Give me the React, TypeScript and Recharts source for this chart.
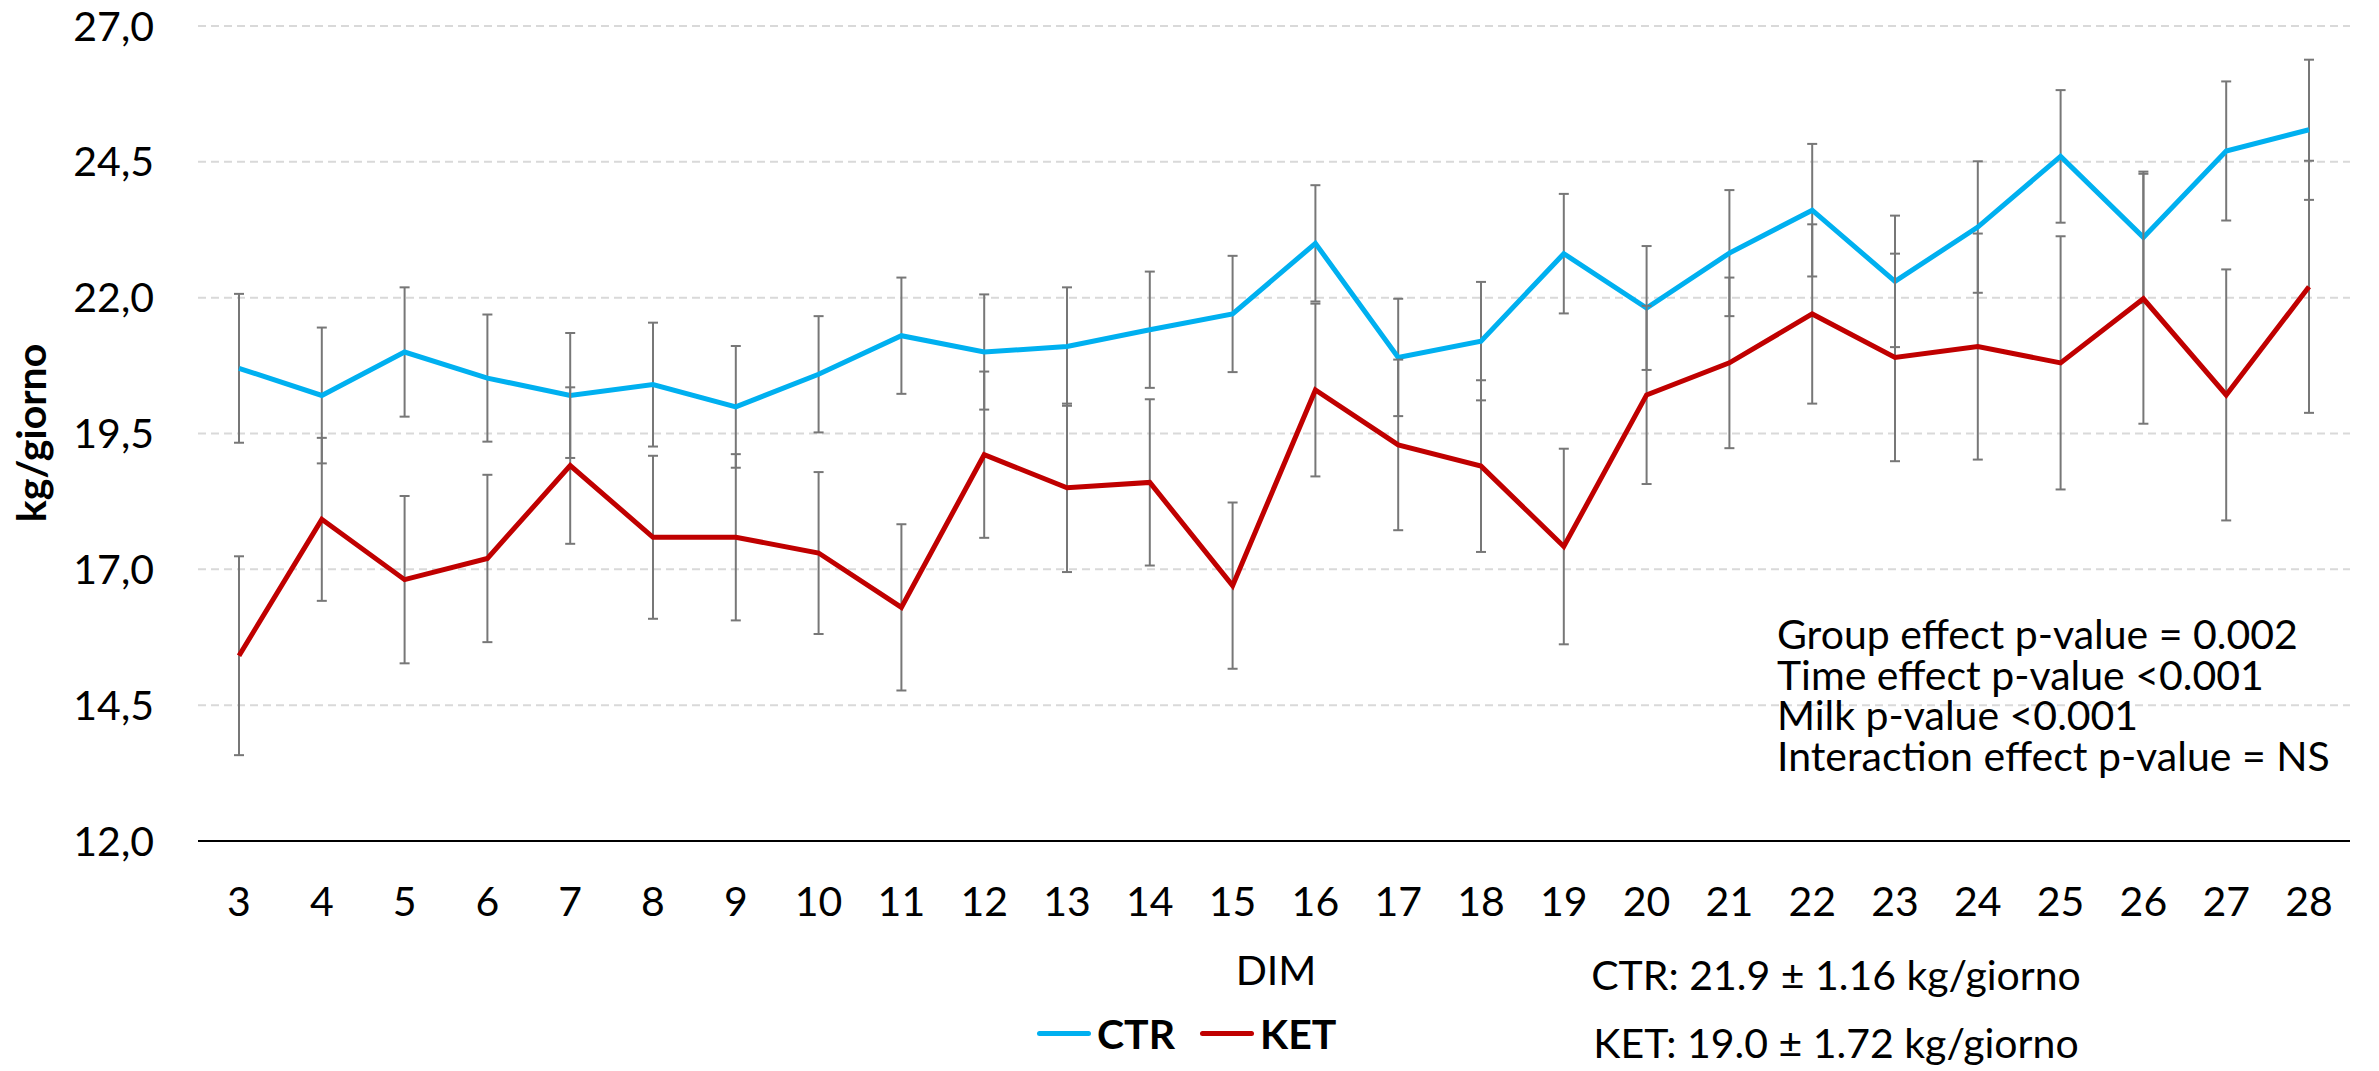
import React from "react";
import {
  LineChart,
  Line,
  XAxis,
  YAxis,
  CartesianGrid,
  ErrorBar,
  Legend,
  Label,
} from "recharts";

// DIM (days in milk)
const dim = [3, 4, 5, 6, 7, 8, 9, 10, 11, 12, 13, 14, 15, 16, 17, 18, 19, 20, 21, 22, 23, 24, 25, 26, 27, 28];

// kg/giorno, group means
const ctr = [
  20.7, 20.2, 21.0, 20.52, 20.2, 20.4, 19.99, 20.59, 21.3, 21.0, 21.1, 21.41, 21.7,
  23.0, 20.9, 21.2, 22.81, 21.81, 22.82, 23.61, 22.3, 23.3, 24.6, 23.11, 24.7, 25.09,
];
const ket = [
  15.41, 17.92, 16.81, 17.2, 18.91, 17.59, 17.59, 17.3, 16.3, 19.11, 18.5, 18.6, 16.7,
  20.3, 19.29, 18.9, 17.42, 20.21, 20.8, 21.7, 20.9, 21.1, 20.8, 21.98, 20.21, 22.2,
];

// error bar half-lengths
const ctrErr = [
  1.37, 1.25, 1.19, 1.17, 1.15, 1.14, 1.12, 1.07, 1.07, 1.06, 1.09, 1.07, 1.07,
  1.07, 1.08, 1.09, 1.1, 1.14, 1.16, 1.22, 1.21, 1.21, 1.22, 1.21, 1.28, 1.29,
];
const ketErr = [
  1.83, 1.5, 1.54, 1.54, 1.44, 1.5, 1.53, 1.49, 1.53, 1.53, 1.55, 1.53, 1.53,
  1.59, 1.57, 1.58, 1.8, 1.64, 1.57, 1.65, 1.91, 2.08, 2.33, 2.3, 2.31, 2.32,
];

const yTicks = [12, 14.5, 17, 19.5, 22, 24.5, 27];

const statsLines = [
  "Group effect p-value = 0.002",
  "Time effect p-value <0.001",
  "Milk p-value <0.001",
  "Interaction effect p-value = NS",
];
const summaryLines = ["CTR: 21.9 ± 1.16 kg/giorno", "KET: 19.0 ± 1.72 kg/giorno"];

const series = [
  { key: "CTR", color: "#00B0F0" },
  { key: "KET", color: "#C00000" },
];

const data = dim.map((d, i) => ({
  dim: d,
  CTR: ctr[i],
  ctrErr: ctrErr[i],
  KET: ket[i],
  ketErr: ketErr[i],
}));

const FONT = "Lato, 'Open Sans', sans-serif";

const fmtComma = (v: number) => v.toFixed(1).replace(".", ",");

const LegendContent = () => (
  <div style={{ display: "flex", alignItems: "center", fontFamily: FONT }}>
    {series.map((s, i) => (
      <div
        key={s.key}
        style={{ display: "flex", alignItems: "center", marginLeft: i === 0 ? 0 : 25 }}
      >
        <span
          style={{
            display: "inline-block",
            width: 54,
            height: 5,
            borderRadius: 3,
            background: s.color,
            marginRight: 6,
          }}
        />
        <span style={{ fontSize: 41, fontWeight: 700, color: "#000", lineHeight: "45px" }}>
          {s.key}
        </span>
      </div>
    ))}
  </div>
);

export default function App() {
  return (
    <div
      style={{
        position: "absolute",
        left: 0,
        top: 0,
        width: 2379,
        height: 1071,
        background: "#fff",
        fontFamily: FONT,
        overflow: "hidden",
      }}
    >
      <LineChart
        width={2379}
        height={1071}
        data={data}
        margin={{ top: 26, right: 29, left: 48, bottom: 170 }}
      >
        <CartesianGrid
          vertical={false}
          stroke="#d9d9d9"
          strokeWidth={2}
          strokeDasharray="8 5"
        />
        <XAxis
          dataKey="dim"
          height={60}
          padding={{ left: 41, right: 41 }}
          axisLine={{ stroke: "#000", strokeWidth: 2 }}
          tickLine={false}
          tickMargin={40}
          tick={{ fontSize: 41, fill: "#000", fontFamily: FONT }}
          interval={0}
        >
          <Label
            content={() => (
              <text
                x={1276}
                y={985}
                textAnchor="middle"
                fontSize={41}
                fill="#000"
                fontFamily={FONT}
              >
                DIM
              </text>
            )}
          />
        </XAxis>
        <YAxis
          width={150}
          domain={[12, 27]}
          ticks={yTicks}
          interval={0}
          axisLine={false}
          tickLine={false}
          tickMargin={38}
          tickFormatter={fmtComma}
          tick={{ fontSize: 41, fill: "#000", fontFamily: FONT }}
        >
          <Label
            content={() => (
              <text
                x={46}
                y={433}
                transform="rotate(-90 46 433)"
                textAnchor="middle"
                fontSize={41}
                fontWeight={700}
                fill="#000"
                fontFamily={FONT}
              >
                kg/giorno
              </text>
            )}
          />
        </YAxis>
        <Legend
          layout="horizontal"
          verticalAlign="middle"
          align="center"
          content={<LegendContent />}
          wrapperStyle={{ left: 1037, top: 1011, width: 400, height: 45 }}
        />
        <Line
          dataKey="CTR"
          stroke={series[0].color}
          strokeWidth={5}
          dot={false}
          activeDot={false}
          isAnimationActive={false}
        >
          <ErrorBar
            dataKey="ctrErr"
            direction="y"
            width={5}
            stroke="#777"
            strokeWidth={2}
            isAnimationActive={false}
          />
        </Line>
        <Line
          dataKey="KET"
          stroke={series[1].color}
          strokeWidth={5}
          dot={false}
          activeDot={false}
          isAnimationActive={false}
        >
          <ErrorBar
            dataKey="ketErr"
            direction="y"
            width={5}
            stroke="#777"
            strokeWidth={2}
            isAnimationActive={false}
          />
        </Line>
      </LineChart>

      <div
        style={{
          position: "absolute",
          left: 1777,
          top: 614,
          fontSize: 41,
          lineHeight: "40.7px",
          color: "#000",
          whiteSpace: "nowrap",
        }}
      >
        {statsLines.map((t) => (
          <div key={t}>{t}</div>
        ))}
      </div>

      {summaryLines.map((t, i) => (
        <div
          key={t}
          style={{
            position: "absolute",
            left: 1536,
            width: 600,
            top: 954 + i * 68,
            textAlign: "center",
            fontSize: 41,
            lineHeight: "41px",
            color: "#000",
            whiteSpace: "nowrap",
          }}
        >
          {t}
        </div>
      ))}
    </div>
  );
}
